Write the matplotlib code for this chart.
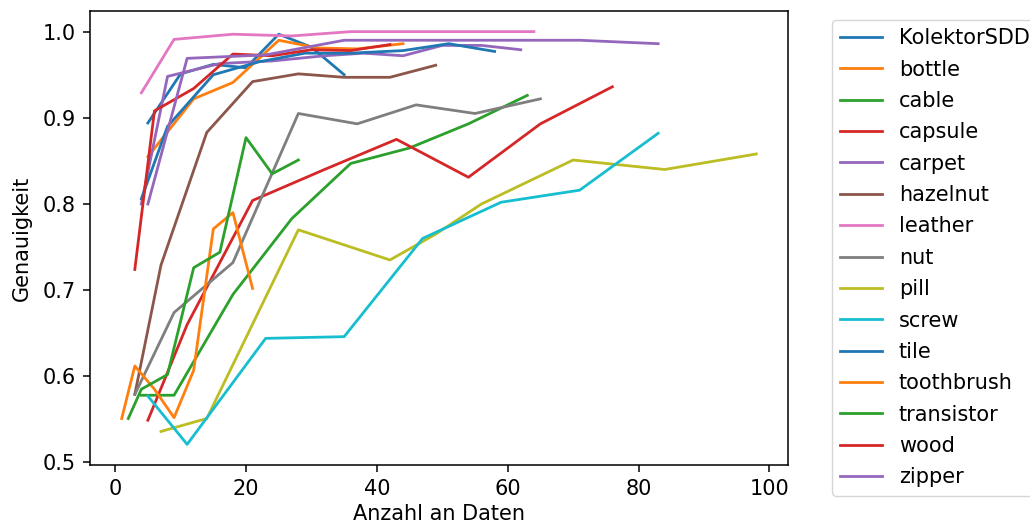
import matplotlib
matplotlib.use("Agg")
import matplotlib.pyplot as plt

plt.rcParams['font.family'] = ['DejaVu Sans']
plt.rcParams['font.size'] = 15
plt.rcParams['lines.linewidth'] = 2.0
plt.rcParams['axes.linewidth'] = 1.1
for a in ('xtick', 'ytick'):
    plt.rcParams[f'{a}.major.size'] = 5.0
    plt.rcParams[f'{a}.major.width'] = 1.1
    plt.rcParams[f'{a}.major.pad'] = 5.0

names = ["KolektorSDD", "bottle", "cable", "capsule", "carpet", "hazelnut",
         "leather", "nut", "pill", "screw", "tile", "toothbrush",
         "transistor", "wood", "zipper"]

kolektor_x = [5, 10, 15, 20, 25, 30, 35]
kolektor_y = [0.894, 0.951, 0.962, 0.958, 0.997, 0.982, 0.950]
bottle_x = [5, 12, 18, 25, 31, 37, 44]
bottle_y = [0.855, 0.922, 0.941, 0.990, 0.981, 0.980, 0.986]
cable_x = [4, 9, 18, 27, 36, 45, 54, 63]
cable_y = [0.578, 0.578, 0.695, 0.783, 0.847, 0.865, 0.893, 0.926]
capsule_x = [5, 11, 21, 32, 43, 54, 65, 76]
capsule_y = [0.549, 0.660, 0.804, 0.840, 0.875, 0.831, 0.893, 0.936]
carpet_x = [4, 8, 16, 24, 32, 38, 44, 50, 56, 62]
carpet_y = [0.800, 0.948, 0.963, 0.966, 0.972, 0.975, 0.972, 0.984, 0.984, 0.979]
hazelnut_x = [3, 7, 14, 21, 28, 35, 42, 49]
hazelnut_y = [0.579, 0.729, 0.883, 0.942, 0.951, 0.947, 0.947, 0.961]
leather_x = [4, 9, 18, 27, 36, 45, 54, 64]
leather_y = [0.929, 0.991, 0.997, 0.995, 1.000, 1.000, 1.000, 1.000]
nut_x = [3, 9, 18, 28, 37, 46, 55, 65]
nut_y = [0.579, 0.674, 0.732, 0.905, 0.893, 0.915, 0.905, 0.922]
pill_x = [7, 14, 28, 42, 49, 56, 70, 84, 98]
pill_y = [0.536, 0.551, 0.770, 0.735, 0.765, 0.800, 0.851, 0.840, 0.858]
screw_x = [5, 11, 23, 35, 47, 59, 71, 83]
screw_y = [0.577, 0.521, 0.644, 0.646, 0.760, 0.802, 0.816, 0.882]
tile_x = [4, 8, 15, 22, 29, 36, 44, 51, 58]
tile_y = [0.806, 0.890, 0.950, 0.965, 0.975, 0.975, 0.978, 0.986, 0.977]
toothbrush_x = [1, 3, 6, 9, 12, 15, 18, 21]
toothbrush_y = [0.551, 0.612, 0.585, 0.552, 0.607, 0.771, 0.790, 0.702]
transistor_x = [2, 4, 8, 12, 16, 20, 24, 28]
transistor_y = [0.551, 0.585, 0.602, 0.726, 0.744, 0.877, 0.835, 0.851]
wood_x = [3, 6, 12, 18, 24, 30, 36, 42]
wood_y = [0.724, 0.908, 0.934, 0.974, 0.972, 0.979, 0.978, 0.985]
zipper_x = [5, 11, 23, 35, 47, 59, 71, 83]
zipper_y = [0.800, 0.969, 0.973, 0.990, 0.990, 0.990, 0.990, 0.986]

series = [
    (kolektor_x, kolektor_y), (bottle_x, bottle_y), (cable_x, cable_y),
    (capsule_x, capsule_y), (carpet_x, carpet_y), (hazelnut_x, hazelnut_y),
    (leather_x, leather_y), (nut_x, nut_y), (pill_x, pill_y),
    (screw_x, screw_y), (tile_x, tile_y), (toothbrush_x, toothbrush_y),
    (transistor_x, transistor_y), (wood_x, wood_y), (zipper_x, zipper_y),
]

fig = plt.figure(figsize=(10.30, 5.31), dpi=100)
ax = fig.add_axes([90/1030, 1 - 465/531, (788 - 90)/1030, (465 - 11)/531])

for name, (xs, ys) in zip(names, series):
    ax.plot(xs, ys, label=name)

ax.set_xlabel("Anzahl an Daten")
ax.set_ylabel("Genauigkeit", labelpad=8)
ax.set_xticks([0, 20, 40, 60, 80, 100])
ax.set_yticks([0.5, 0.6, 0.7, 0.8, 0.9, 1.0])
ax.legend(loc='upper left', bbox_to_anchor=((832 - 90) / 698, 1 - 9 / 454),
          borderaxespad=0, fontsize=15, labelspacing=0.545)

fig.savefig("out.png", dpi=100)
